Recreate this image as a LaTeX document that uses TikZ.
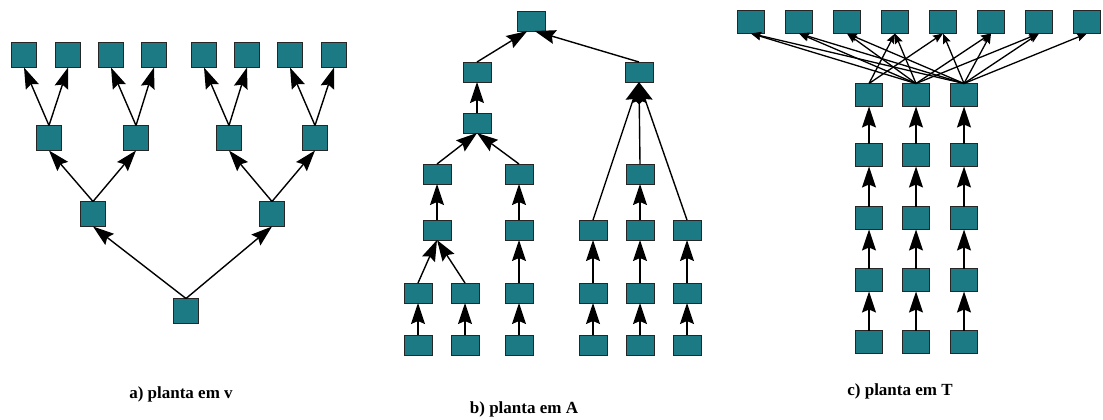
\documentclass[tikz,border=0pt]{standalone}
\usepackage{fontspec}
\setmainfont{Liberation Serif}
\usetikzlibrary{arrows.meta}
\definecolor{boxteal}{RGB}{28,122,132}
\begin{document}
\begin{tikzpicture}[x=1pt,y=-1pt,
  unit/.style={draw=black!85, line width=0.9pt, fill=boxteal, inner sep=0pt, outer sep=0pt},
  boxa/.style={unit, minimum width=25pt, minimum height=25pt},
  boxb/.style={unit, minimum width=28pt, minimum height=20pt},
  boxc/.style={unit, minimum width=27pt, minimum height=23pt},
  link/.style={-{Stealth[length=21pt,width=14pt,inset=3pt]}, line width=1.4pt},
  fine/.style={-{Stealth[length=10pt,width=8pt,inset=1.5pt]}, line width=1.3pt},
  caption/.style={font=\fontsize{17}{20}\selectfont\bfseries}]
\useasboundingbox (0,0) rectangle (1103,420);

% ---------- a) V plant ----------
\foreach \n/\x in {1/24,2/68,3/111,4/154,5/204,6/247,7/290,8/334}
  \node[boxa] (a1\n) at (\x,55) {};
\foreach \n/\x in {1/49,2/136,3/229,4/315}
  \node[boxa] (a2\n) at (\x,138) {};
\node[boxa] (a31) at (93,214) {};
\node[boxa] (a32) at (272,214) {};
\node[boxa] (a4) at (186,311) {};

\foreach \s/\t in {21/11,21/12,22/13,22/14,23/15,23/16,24/17,24/18,31/21,31/22,32/23,32/24}
  \draw[link] (a\s.north) -- (a\t.south);
\draw[link] (a4.north) -- (a31.south);
\draw[link] (a4.north) -- (a32.south);

\node[caption] (capa) at (181,394) {a) planta em v};

% ---------- b) A plant ----------
\node[boxb] (bT) at (531,21) {};
\node[boxb] (b2L) at (477,72) {};
\node[boxb] (b2R) at (639,72) {};
\node[boxb] (b3) at (477,123) {};
\node[boxb] (b4a) at (437,174) {};
\node[boxb] (b4b) at (519,174) {};
\node[boxb] (b4c) at (640,174) {};
\foreach \n/\x in {a/437,b/519,c/593,d/640,e/687}
  \node[boxb] (b5\n) at (\x,230) {};
\foreach \n/\x in {a/418,b/465,c/519,d/593,e/640,f/687} {
  \node[boxb] (b6\n) at (\x,293) {};
  \node[boxb] (b7\n) at (\x,345) {};
}

\draw[link] (b2L.north) -- (bT.-110);
\draw[link] (b2R.north) -- (bT.-70);
\draw[link] (b3.north) -- (b2L.south);
\draw[link] (b4a.north) -- (b3.south);
\draw[link] (b4b.north) -- (b3.south);
\draw[link] (b5a.north) -- (b4a.south);
\draw[link] (b5b.north) -- (b4b.south);
\draw[link] (b5c.north) -- (b2R.south);
\draw[link] (b4c.north) -- (b2R.south);
\draw[link] (b5e.north) -- (b2R.south);
\draw[link] (b5d.north) -- (b4c.south);
\draw[link] (b6a.north) -- (b5a.south);
\draw[link] (b6b.north) -- (b5a.south);
\draw[link] (b6c.north) -- (b5b.south);
\draw[link] (b6d.north) -- (b5c.south);
\draw[link] (b6e.north) -- (b5d.south);
\draw[link] (b6f.north) -- (b5e.south);
\foreach \n in {a,b,c,d,e,f}
  \draw[link] (b7\n.north) -- (b6\n.south);

\node[caption] (capb) at (524,409) {b) planta em A};

% ---------- c) T plant ----------
\foreach \n/\x in {1/751,2/799,3/847,4/895,5/943,6/991,7/1039,8/1087}
  \node[boxc] (ct\n) at (\x,22) {};
\foreach \c/\x in {1/869,2/916,3/964}
  \foreach \r/\y in {1/95,2/155,3/218,4/280,5/342}
    \node[boxc] (c\c\r) at (\x,\y) {};

\foreach \c in {1,2,3}
  \foreach \r/\q in {2/1,3/2,4/3,5/4}
    \draw[link] (c\c\r.north) -- (c\c\q.south);

\foreach \c/\t in {1/4,1/5,2/1,2/2,2/3,2/4,2/6,2/7,3/1,3/2,3/3,3/5,3/6,3/7,3/8}
  \draw[fine] (c\c1.north) -- (ct\t.south);

\node[caption] (capc) at (900,391) {c) planta em T};
\end{tikzpicture}
\end{document}
